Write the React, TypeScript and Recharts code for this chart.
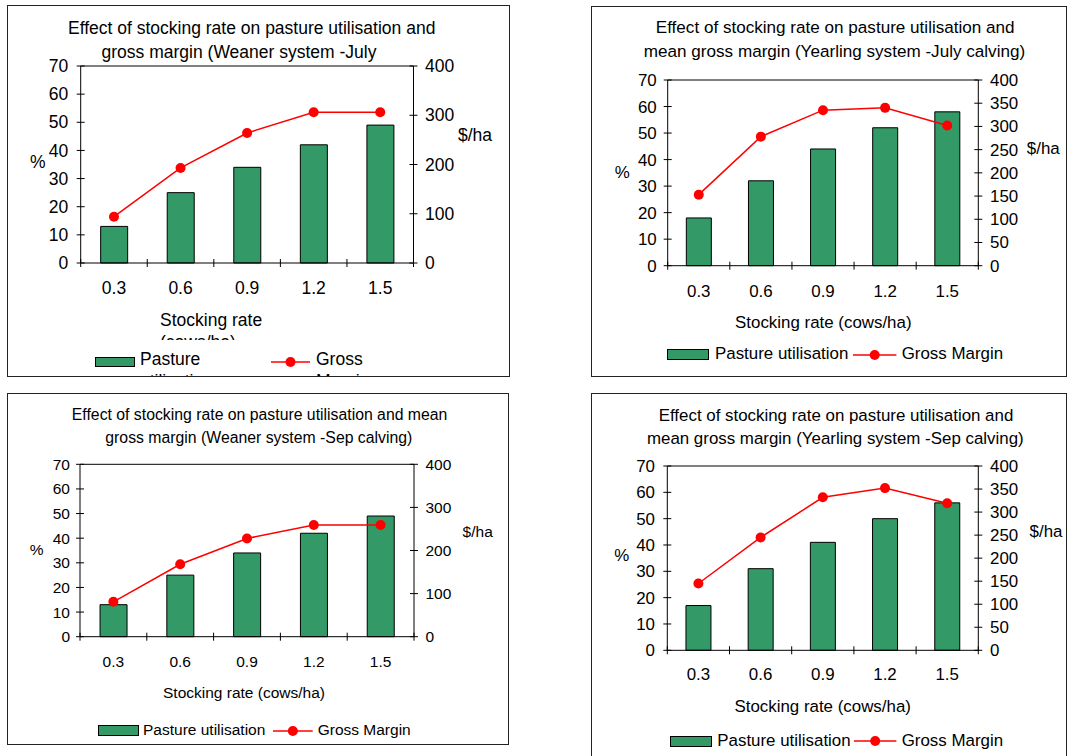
import React from 'react';
import { ComposedChart, Bar, Line, XAxis, YAxis, ReferenceLine } from 'recharts';

// ---------- data ----------
const categories = ['0.3', '0.6', '0.9', '1.2', '1.5'];
const categoryEdges = [0, 1, 2, 3, 4, 5];
const pctTicks = [0, 10, 20, 30, 40, 50, 60, 70];
const dollarTicks100 = [0, 100, 200, 300, 400];
const dollarTicks50 = [0, 50, 100, 150, 200, 250, 300, 350, 400];

const weanerJulyPasture = [13, 25, 34, 42, 49];
const weanerJulyMargin = [94, 193, 264, 306, 306];
const yearlingJulyPasture = [18, 32, 44, 52, 58];
const yearlingJulyMargin = [153, 278, 335, 340, 302];
const weanerSepPasture = [13, 25, 34, 42, 49];
const weanerSepMargin = [81, 168, 228, 259, 259];
const yearlingSepPasture = [17, 31, 41, 50, 56];
const yearlingSepMargin = [145, 245, 332, 352, 319];

const titleWeanerJuly = ['Effect of stocking rate on pasture utilisation and', 'gross margin (Weaner system -July'];
const titleYearlingJuly = ['Effect of stocking rate on pasture utilisation and', 'mean gross margin (Yearling system -July calving)'];
const titleWeanerSep = ['Effect of stocking rate on pasture utilisation and mean', 'gross margin (Weaner system -Sep calving)'];
const titleYearlingSep = ['Effect of stocking rate on pasture utilisation and', 'mean gross margin (Yearling system -Sep calving)'];

const xTitleFull = 'Stocking rate (cows/ha)';
const xTitleWrapped = ['Stocking rate', '(cows/ha)'];
const leftTitle = '%';
const rightTitle = '$/ha';
const legendPasture = 'Pasture utilisation';
const legendMargin = 'Gross Margin';
const legendPastureWrapped = ['Pasture', 'utilisation'];
const legendMarginWrapped = ['Gross', 'Margin'];

// ---------- style ----------
const FONT = '"Liberation Sans", Arial, Helvetica, sans-serif';
const GREEN = '#339966';
const RED = '#ff0000';
const TICK_HALF = 4;

type Layout = {
  box: [number, number, number, number];
  plot: [number, number, number, number];
  font: number;
  titleFont: number;
  titlePos: [number, number][];
  pct: [number, number];
  dollar: [number, number];
  gapL: number;
  gapR: number;
  xLabelCenter: number;
  axisTitle: { x: number; y: number; align: 'center' | 'left'; lineH?: number; clipY?: number };
  legend: { rect: [number, number, number, number]; pastureX: number; line: [number, number]; grossX: number; cy: number; lineH?: number };
};

const L1: Layout = {
  box: [7, 5, 510, 377],
  plot: [80.7, 66, 413.5, 263],
  font: 17.5,
  titleFont: 17.5,
  titlePos: [[251.7, 29.3], [239, 53.3]],
  pct: [37.9, 163.3],
  dollar: [475, 136],
  gapL: 12.5,
  gapR: 11.5,
  xLabelCenter: 288,
  axisTitle: { x: 160, y: 321, align: 'left', lineH: 21.5, clipY: 340 },
  legend: { rect: [95, 356.7, 135, 366.7], pastureX: 140, line: [271, 310], grossX: 316, cy: 360, lineH: 21.5 },
};
const L2: Layout = {
  box: [591, 6, 1067, 377],
  plot: [667.7, 80, 978.3, 265.7],
  font: 16.9,
  titleFont: 17.1,
  titlePos: [[835.2, 28.3], [834.5, 52.3]],
  pct: [622.3, 172.7],
  dollar: [1043.3, 149.3],
  gapL: 11,
  gapR: 11.7,
  xLabelCenter: 290.7,
  axisTitle: { x: 823.3, y: 323.3, align: 'center' },
  legend: { rect: [666.7, 349.3, 709.3, 360], pastureX: 715, line: [853.3, 896.7], grossX: 901.7, cy: 353.5 },
};
const L3: Layout = {
  box: [7, 393, 509, 745],
  plot: [80, 464.3, 414, 636.7],
  font: 15.5,
  titleFont: 15.8,
  titlePos: [[259.6, 415], [258.8, 437.7]],
  pct: [36.7, 549.5],
  dollar: [477.7, 531.7],
  gapL: 10,
  gapR: 11.5,
  xLabelCenter: 661.5,
  axisTitle: { x: 244, y: 692.7, align: 'center' },
  legend: { rect: [98.3, 725, 139.3, 736], pastureX: 143, line: [273, 312.7], grossX: 317.7, cy: 729.8 },
};
const L4: Layout = {
  box: [591, 393, 1067, 770],
  plot: [667.3, 466, 978.3, 650.3],
  font: 16.9,
  titleFont: 16.9,
  titlePos: [[836, 415.7], [835.3, 439]],
  pct: [621.7, 555.7],
  dollar: [1046, 531.7],
  gapL: 12.3,
  gapR: 11.7,
  xLabelCenter: 674.3,
  axisTitle: { x: 822.7, y: 707.3, align: 'center' },
  legend: { rect: [670, 736, 712.3, 746.7], pastureX: 717.3, line: [854.3, 896.7], grossX: 901.7, cy: 740.5 },
};

type TProps = { x: number; y: number; size: number; align?: 'center' | 'left'; children: React.ReactNode };
const T = ({ x, y, size, align = 'center', children }: TProps) => (
  <div
    style={{
      position: 'absolute',
      left: x,
      top: y,
      transform: align === 'center' ? 'translate(-50%, -50%)' : 'translate(0, -50%)',
      fontSize: size,
      lineHeight: 1,
      whiteSpace: 'nowrap',
      fontFamily: FONT,
      color: '#000',
    }}
  >
    {children}
  </div>
);

type PanelProps = {
  layout: Layout;
  title: string[];
  pasture: number[];
  margin: number[];
  dollarTicks: number[];
  wrapped?: boolean;
};

function Panel({ layout, title, pasture, margin, dollarTicks, wrapped }: PanelProps) {
  const [bl, bt, br, bb] = layout.box;
  const ox = bl + 1;
  const oy = bt + 1;
  const W = br - bl - 2;
  const H = bb - bt - 2;
  const [pl, pt, pr, pb] = layout.plot;
  const f = layout.font;
  const rows = categories.map((c, i) => ({ cat: c, edge: i + 0.5, pasture: pasture[i], margin: margin[i] }));
  const catAxisH = 30;
  const gridAxisH = 1;
  const chartMargin = { top: pt - oy, bottom: oy + H - pb - catAxisH - gridAxisH, left: 0, right: 0 };
  const xTickMargin = layout.xLabelCenter - 0.358 * f - pb - gridAxisH;
  const gapR = layout.gapR;
  const gapL = layout.gapL;

  const RightTick = (props: any) => {
    const { x, y, payload } = props;
    const ax = x - gapR;
    return (
      <g>
        <line x1={ax - TICK_HALF} x2={ax + TICK_HALF} y1={y} y2={y} stroke="#000" strokeWidth={1} />
        <text x={x} y={y} dy="0.355em" textAnchor="start" fontSize={f} fontFamily={FONT} fill="#000">
          {payload.value}
        </text>
      </g>
    );
  };
  const LeftTick = (props: any) => {
    const { x, y, payload } = props;
    const ax = x + gapL;
    return (
      <g>
        <line x1={ax - TICK_HALF} x2={ax + TICK_HALF} y1={y} y2={y} stroke="#000" strokeWidth={1} />
        <text x={x} y={y} dy="0.355em" textAnchor="end" fontSize={f} fontFamily={FONT} fill="#000">
          {payload.value}
        </text>
      </g>
    );
  };
  const EdgeTick = (props: any) => {
    const { x, y } = props;
    return <line x1={x} x2={x} y1={y - TICK_HALF} y2={y + TICK_HALF} stroke="#000" strokeWidth={1} />;
  };

  const lg = layout.legend;
  const at = layout.axisTitle;
  const lx = (v: number) => v - ox;
  const ly = (v: number) => v - oy;

  return (
    <>
      <div style={{ position: 'absolute', left: ox, top: oy, width: W, height: H, overflow: 'hidden', background: '#fff' }}>
        {title.map((t, i) => (
          <T key={i} x={lx(layout.titlePos[i][0])} y={ly(layout.titlePos[i][1])} size={layout.titleFont}>
            {t}
          </T>
        ))}
        <div style={{ position: 'absolute', left: 0, top: 0 }}>
          <ComposedChart width={W} height={H} data={rows} margin={chartMargin} barCategoryGap="30%">
            <XAxis
              xAxisId="b_cat"
              dataKey="cat"
              height={catAxisH}
              axisLine={false}
              tickLine={false}
              tickSize={0}
              tickMargin={xTickMargin}
              interval={0}
              tick={{ fill: '#000', fontSize: f, fontFamily: FONT }}
            />
            <XAxis
              xAxisId="a_grid"
              type="number"
              dataKey="edge"
              domain={[0, 5]}
              ticks={categoryEdges}
              allowDataOverflow
              height={gridAxisH}
              tick={EdgeTick}
              tickSize={0}
              tickMargin={0}
              axisLine={{ stroke: '#000', strokeWidth: 1 }}
              tickLine={false}
              interval={0}
            />
            <YAxis
              yAxisId="l"
              domain={[0, 70]}
              ticks={pctTicks}
              width={pl - ox}
              tickSize={0}
              tickMargin={gapL}
              axisLine={{ stroke: '#000', strokeWidth: 1 }}
              tickLine={false}
              tick={LeftTick}
              interval={0}
            />
            <YAxis
              yAxisId="r"
              orientation="right"
              domain={[0, 400]}
              ticks={dollarTicks}
              width={ox + W - pr}
              tickSize={0}
              tickMargin={gapR}
              axisLine={{ stroke: '#000', strokeWidth: 1 }}
              tickLine={false}
              tick={RightTick}
              interval={0}
            />
            <Bar
              xAxisId="b_cat"
              yAxisId="l"
              dataKey="pasture"
              fill={GREEN}
              stroke="#000"
              strokeWidth={1}
              isAnimationActive={false}
            />
            <Line
              xAxisId="b_cat"
              yAxisId="r"
              dataKey="margin"
              type="linear"
              stroke={RED}
              strokeWidth={1.5}
              dot={{ r: 5, fill: RED, stroke: RED, strokeWidth: 0 }}
              activeDot={false}
              isAnimationActive={false}
            />
            <ReferenceLine xAxisId="b_cat" yAxisId="l" y={70} stroke="#000" strokeWidth={1} />
          </ComposedChart>
        </div>
        <T x={lx(layout.pct[0])} y={ly(layout.pct[1])} size={f}>{leftTitle}</T>
        <T x={lx(layout.dollar[0])} y={ly(layout.dollar[1])} size={f}>{rightTitle}</T>
        {wrapped ? (
          <div style={{ position: 'absolute', left: 0, top: 0, width: W, height: (at.clipY ?? 0) - oy, overflow: 'hidden' }}>
            <T x={lx(at.x)} y={ly(at.y)} size={f} align="left">{xTitleWrapped[0]}</T>
            <T x={lx(at.x)} y={ly(at.y + (at.lineH ?? 21))} size={f} align="left">{xTitleWrapped[1]}</T>
          </div>
        ) : (
          <T x={lx(at.x)} y={ly(at.y)} size={f} align={at.align}>{xTitleFull}</T>
        )}
        {/* legend */}
        <div
          style={{
            position: 'absolute',
            left: lx(lg.rect[0]),
            top: ly(lg.rect[1]),
            width: lg.rect[2] - lg.rect[0],
            height: lg.rect[3] - lg.rect[1],
            background: GREEN,
            border: '1px solid #000',
            boxSizing: 'border-box',
          }}
        />
        <svg
          style={{ position: 'absolute', left: lx(lg.line[0]), top: ly((lg.rect[1] + lg.rect[3]) / 2) - 6 }}
          width={lg.line[1] - lg.line[0]}
          height={12}
        >
          <line x1={0} x2={lg.line[1] - lg.line[0]} y1={6} y2={6} stroke={RED} strokeWidth={1.5} />
          <circle cx={(lg.line[1] - lg.line[0]) / 2} cy={6} r={5} fill={RED} />
        </svg>
        {wrapped ? (
          <>
            <T x={lx(lg.pastureX)} y={ly(lg.cy)} size={f} align="left">{legendPastureWrapped[0]}</T>
            <T x={lx(lg.pastureX)} y={ly(lg.cy + (lg.lineH ?? 21))} size={f} align="left">{legendPastureWrapped[1]}</T>
            <T x={lx(lg.grossX)} y={ly(lg.cy)} size={f} align="left">{legendMarginWrapped[0]}</T>
            <T x={lx(lg.grossX)} y={ly(lg.cy + (lg.lineH ?? 21))} size={f} align="left">{legendMarginWrapped[1]}</T>
          </>
        ) : (
          <>
            <T x={lx(lg.pastureX)} y={ly(lg.cy)} size={f} align="left">{legendPasture}</T>
            <T x={lx(lg.grossX)} y={ly(lg.cy)} size={f} align="left">{legendMargin}</T>
          </>
        )}
      </div>
      <div
        style={{
          position: 'absolute',
          left: bl,
          top: bt,
          width: br - bl,
          height: bb - bt,
          border: '1px solid #222',
          boxSizing: 'border-box',
          pointerEvents: 'none',
        }}
      />
    </>
  );
}

export default function App() {
  return (
    <div
      style={{
        position: 'absolute',
        left: 0,
        top: 0,
        width: 1069,
        height: 756,
        overflow: 'hidden',
        background: '#fff',
        fontFamily: FONT,
      }}
    >
      <Panel layout={L1} title={titleWeanerJuly} pasture={weanerJulyPasture} margin={weanerJulyMargin} dollarTicks={dollarTicks100} wrapped />
      <Panel layout={L2} title={titleYearlingJuly} pasture={yearlingJulyPasture} margin={yearlingJulyMargin} dollarTicks={dollarTicks50} />
      <Panel layout={L3} title={titleWeanerSep} pasture={weanerSepPasture} margin={weanerSepMargin} dollarTicks={dollarTicks100} />
      <Panel layout={L4} title={titleYearlingSep} pasture={yearlingSepPasture} margin={yearlingSepMargin} dollarTicks={dollarTicks50} />
    </div>
  );
}
